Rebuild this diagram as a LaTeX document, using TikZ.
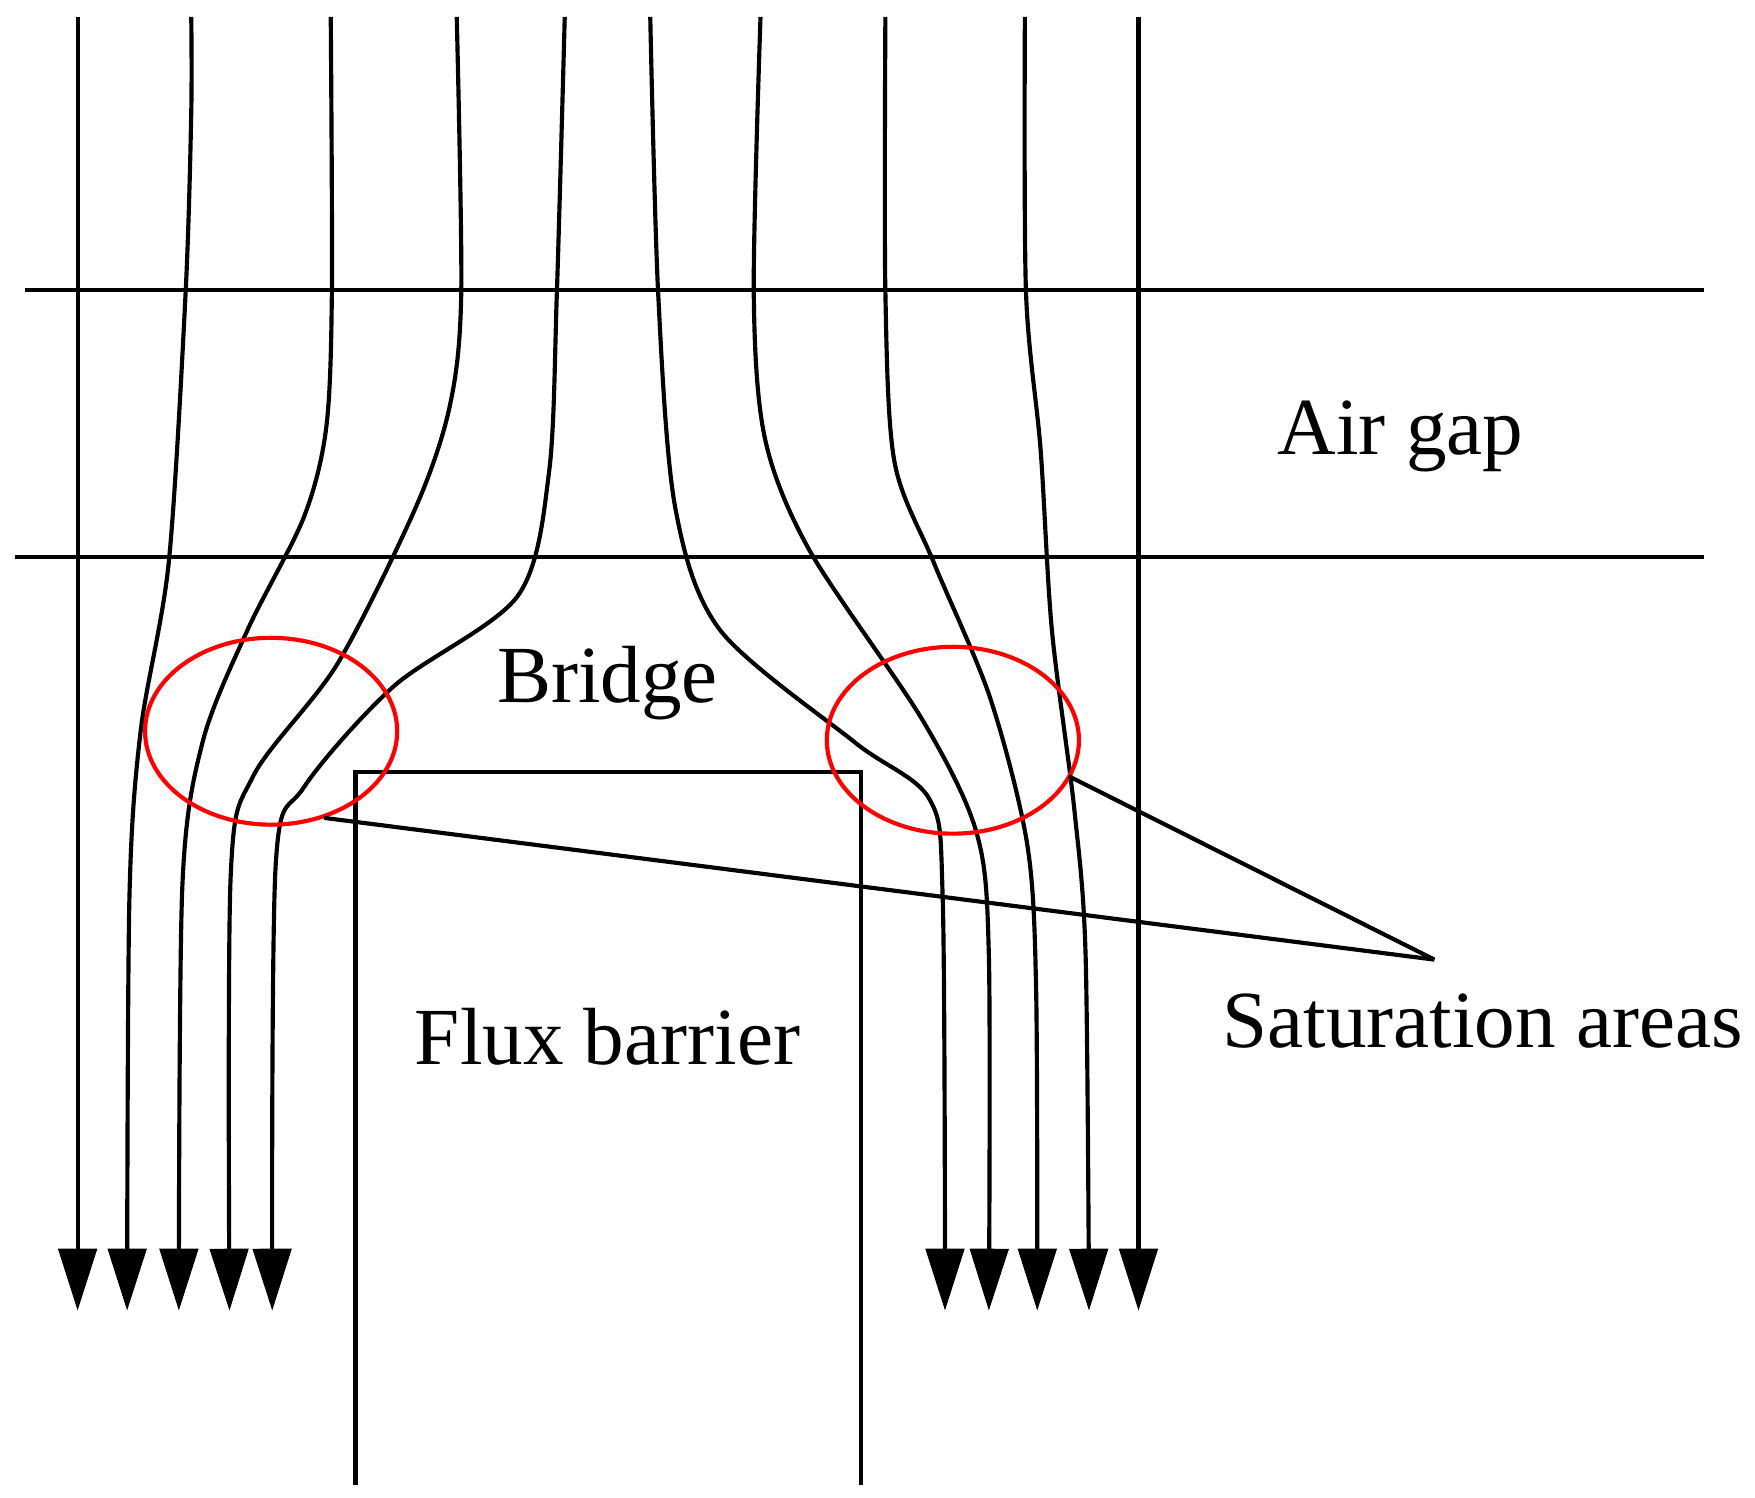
\documentclass[tikz,border=0pt]{standalone}
\usepackage{fontspec}
\setmainfont{Liberation Serif}
\usetikzlibrary{arrows.meta,shapes.geometric}
\begin{document}
\begin{tikzpicture}[x=0.01cm,y=-0.01cm,
  ln/.style={line width=1.05pt},
  flux/.style={line width=1.05pt,-{Triangle[length=0.55cm,width=0.34cm]}},
  sat/.style={red,line width=1.05pt},
  lbl/.style={font=\fontsize{20.5}{24}\selectfont,inner sep=0pt}]
\useasboundingbox (0,0) rectangle (1560,1331);
\draw[ln] (22,258) -- (1515,258);
\draw[ln] (13,495) -- (1515,495);
\draw[ln] (316,1320) -- (316,686) -- (765,686) -- (765,1320);
% flux lines
\draw[flux] (69,15) -- (69,1165);
\draw[flux] plot[smooth] coordinates {(170,15) (170,100) (165,260) (150,500) (125,650) (115,800) (113,1165)};
\draw[flux] plot[smooth] coordinates {(294,15) (295,260) (290,380) (270,460) (220,560) (180,660) (162,790) (159,1165)};
\draw[flux] plot[smooth] coordinates {(406,15) (410,260) (400,360) (370,450) (300,590) (225,690) (205,780) (204,1165)};
\draw[flux] plot[smooth] coordinates {(502,15) (495,260) (488,420) (460,530) (350,610) (270,700) (245,770) (242,1165)};
\draw[flux] plot[smooth] coordinates {(578,15) (585,260) (600,450) (640,560) (760,660) (826,710) (838,800) (840,1165)};
\draw[flux] plot[smooth] coordinates {(676,15) (670,260) (680,390) (720,490) (820,640) (868,740) (879,850) (879,1165)};
\draw[flux] plot[smooth] coordinates {(787,15) (787,260) (795,410) (830,500) (880,620) (913,750) (921,880) (922,1165)};
\draw[flux] plot[smooth] coordinates {(911,15) (912,260) (925,400) (935,560) (955,720) (965,850) (968,1165)};
\draw[flux] (1012,15) -- (1012,1165);
% saturation
\node[sat,draw,ellipse,minimum width=2.24cm,minimum height=1.66cm,inner sep=0pt] (e1) at (241,650) {};
\node[sat,draw,ellipse,minimum width=2.24cm,minimum height=1.66cm,inner sep=0pt] (e2) at (847,658) {};
\coordinate (j) at (1275,853);
\draw[ln] (288,727) -- (j);
\draw[ln] (950,690) -- (j);
\node[lbl] (ag) at (1245,388) {Air gap};
\node[lbl] (br) at (540,607) {Bridge};
\node[lbl] (fb) at (540,922) {Flux barrier};
\node[lbl] (sa) at (1318,908) {Saturation areas};
\end{tikzpicture}
\end{document}
